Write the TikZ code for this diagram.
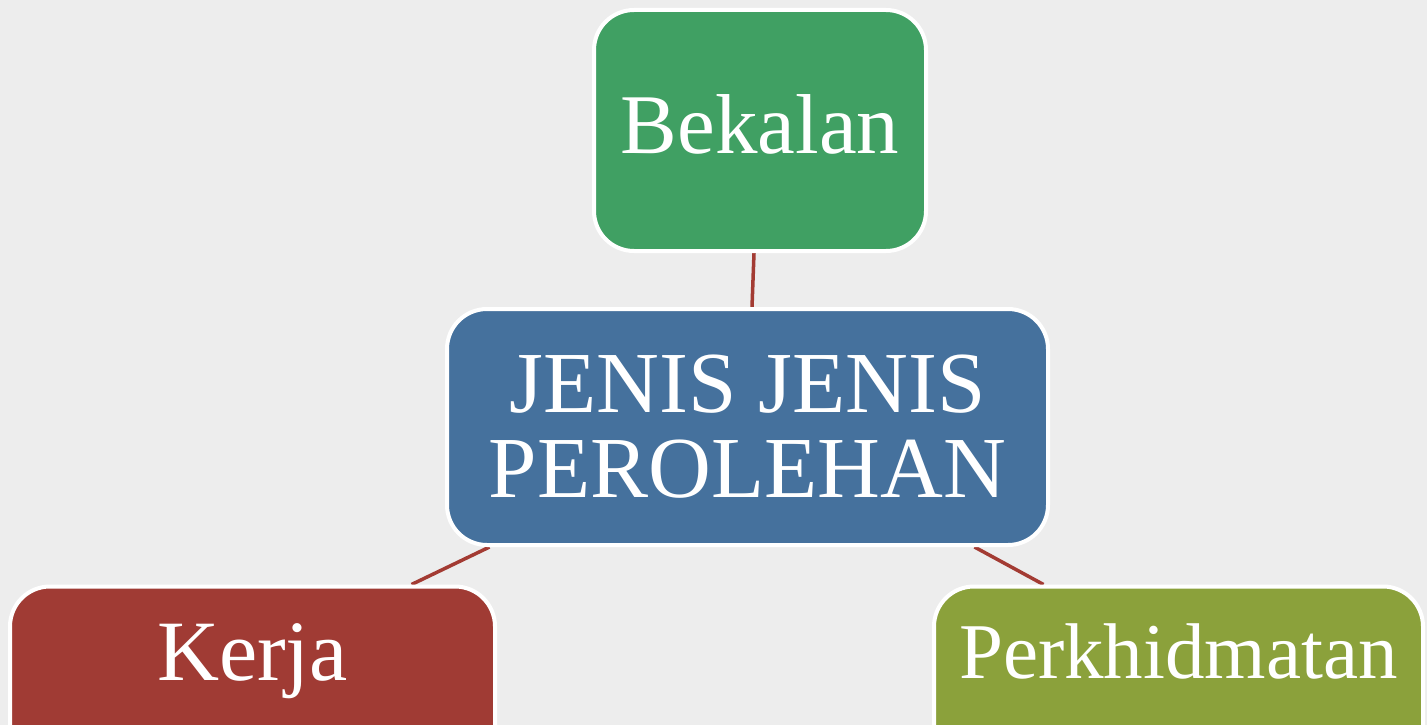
\documentclass[tikz,border=0pt]{standalone}
\usepackage{fontspec}
\setmainfont{Liberation Serif}
\usetikzlibrary{calc}
\definecolor{bg}{HTML}{EDEDED}
\definecolor{cgreen}{HTML}{40A063}
\definecolor{cblue}{HTML}{45719D}
\definecolor{cred}{HTML}{A03B34}
\definecolor{colive}{HTML}{8BA13B}
\definecolor{cline}{HTML}{A33B33}
\pgfdeclarelayer{backlayer}
\pgfdeclarelayer{linelayer}
\pgfsetlayers{backlayer,linelayer,main}
\tikzset{
  box/.style={draw=white, line width=4pt, rounded corners=40pt, text=white,
    inner sep=0pt, align=center},
  conn/.style={draw=cline, line width=3.5pt}
}
\begin{document}
\begin{tikzpicture}[x=1pt,y=-1pt]
\useasboundingbox (0,0) rectangle (1427,725);
\begin{pgfonlayer}{backlayer}
\fill[bg] (0,0) rectangle (1427,725);
\end{pgfonlayer}
\clip (0,0) rectangle (1427,725);
% boxes
\node[box, fill=cgreen, minimum width=332pt, minimum height=241pt,
  text height=45pt, text depth=0pt, font=\fontsize{85}{85}\selectfont] (green) at (760,130.5) {Bekalan};
\node[box, fill=cblue, minimum width=601pt, minimum height=236pt,
  font=\fontsize{87}{85}\selectfont] (blue) at (747.5,427) {JENIS JENIS\\PEROLEHAN};
\node[box, fill=cred, minimum width=485pt, minimum height=241pt,
  text height=0pt, text depth=54pt, font=\fontsize{86}{86}\selectfont] (red) at (252.5,707) {Kerja};
\node[box, fill=colive, minimum width=489pt, minimum height=241pt,
  text height=0pt, text depth=58pt, font=\fontsize{79}{79}\selectfont] (olive) at (1178.5,707) {Perkhidmatan};
% connectors (behind boxes)
\begin{pgfonlayer}{linelayer}
\path[conn] ($(green.south)+(-6,0)$) -- ($(blue.north)+(4.5,0)$);
\path[conn] ($(blue.south west)+(44.5,0)$) -- ($(red.north east)+(-85.5,0)$);
\path[conn] ($(blue.south east)+(-75.5,0)$) -- ($(olive.north west)+(111.5,0)$);
\end{pgfonlayer}
\end{tikzpicture}
\end{document}
